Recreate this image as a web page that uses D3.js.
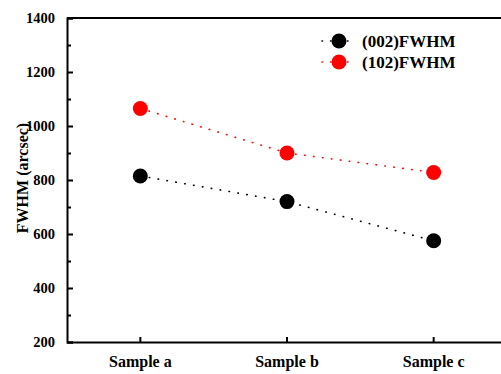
<!DOCTYPE html>
<html>
<head>
<meta charset="utf-8">
<script src="https://cdn.jsdelivr.net/npm/d3@7"></script>
<style>
  body { margin: 0; background: #fff; }
  svg { display: block; }
</style>
</head>
<body>
<div id="chart"></div>
<script>
const samples = ['Sample a', 'Sample b', 'Sample c'];
const fwhm002 = [815, 720, 575];
const fwhm102 = [1065, 900, 828];
const seriesNames = ['(002)FWHM', '(102)FWHM'];
const seriesColors = ['#000000', '#ff0000'];
const yTicks = [200, 400, 600, 800, 1000, 1200, 1400];
const yMinorTicks = [300, 500, 700, 900, 1100, 1300];

const font = 'Liberation Serif, Times New Roman, serif';
const width = 501, height = 374;
const margin = { top: 18, right: -6, bottom: 32, left: 67 };
const innerW = width - margin.left - margin.right;
const innerH = height - margin.top - margin.bottom;

const svg = d3.select('#chart').append('svg')
  .attr('width', width)
  .attr('height', height)
  .attr('font-family', font)
  .attr('font-weight', 'bold');

const g = svg.append('g')
  .attr('transform', `translate(${margin.left},${margin.top})`);

const x = d3.scaleBand().domain(samples).range([0, innerW]);
const y = d3.scaleLinear().domain([200, 1400]).range([innerH, 0]);

// top frame line
g.append('line')
  .attr('x1', 0).attr('x2', innerW)
  .attr('y1', 0).attr('y2', 0)
  .attr('stroke', '#000').attr('stroke-width', 2);

// y axis
const yAxis = g.append('g')
  .call(d3.axisLeft(y).tickValues(yTicks).tickFormat(d3.format('d')).tickSize(-6).tickPadding(12))
  .attr('font-family', font);
yAxis.select('.domain').attr('stroke-width', 2);
yAxis.selectAll('.tick line').attr('stroke-width', 2);
yAxis.selectAll('.tick text').attr('font-size', 14.5).attr('fill', '#000');

g.append('g')
  .call(d3.axisLeft(y).tickValues(yMinorTicks).tickSize(-4).tickFormat(''))
  .call(s => s.select('.domain').remove())
  .selectAll('.tick line').attr('stroke-width', 2);

// x axis
const xAxis = g.append('g')
  .attr('transform', `translate(0,${innerH})`)
  .call(d3.axisBottom(x).tickSize(-5).tickPadding(14).tickSizeOuter(0))
  .attr('font-family', font);
xAxis.select('.domain').attr('stroke-width', 2);
xAxis.selectAll('.tick line').attr('stroke-width', 2);
xAxis.selectAll('.tick text').attr('font-size', 16).attr('fill', '#000');

// y label
svg.append('text')
  .attr('transform', 'translate(28,178) rotate(-90)')
  .attr('text-anchor', 'middle')
  .attr('font-size', 16)
  .text('FWHM (arcsec)');

const cx = d => x(d) + x.bandwidth() / 2;
const line = d3.line().x(d => cx(d.s)).y(d => y(d.v));

const series = [fwhm002, fwhm102];
series.forEach((vals, i) => {
  const pts = samples.map((s, j) => ({ s, v: vals[j] }));
  g.append('path')
    .datum(pts)
    .attr('d', line)
    .attr('fill', 'none')
    .attr('stroke', seriesColors[i])
    .attr('stroke-width', 1.6)
    .attr('stroke-linecap', 'round')
    .attr('stroke-dasharray', '0.5,8.5');
  g.selectAll(null)
    .data(pts)
    .enter().append('circle')
    .attr('cx', d => cx(d.s))
    .attr('cy', d => y(d.v))
    .attr('r', 7.5)
    .attr('fill', seriesColors[i]);
});

// legend
const legend = svg.append('g').attr('transform', 'translate(322,41)');
seriesNames.forEach((name, i) => {
  const row = legend.append('g').attr('transform', `translate(0,${i * 21})`);
  row.append('line')
    .attr('x1', 0).attr('x2', 34)
    .attr('stroke', seriesColors[i])
    .attr('stroke-width', 1.6)
    .attr('stroke-linecap', 'round')
    .attr('stroke-dasharray', '0.5,8');
  row.append('circle').attr('cx', 17).attr('r', 7.5).attr('fill', seriesColors[i]);
  row.append('text')
    .attr('x', 40).attr('y', 6)
    .attr('font-size', 17)
    .text(name);
});
</script>
</body>
</html>
